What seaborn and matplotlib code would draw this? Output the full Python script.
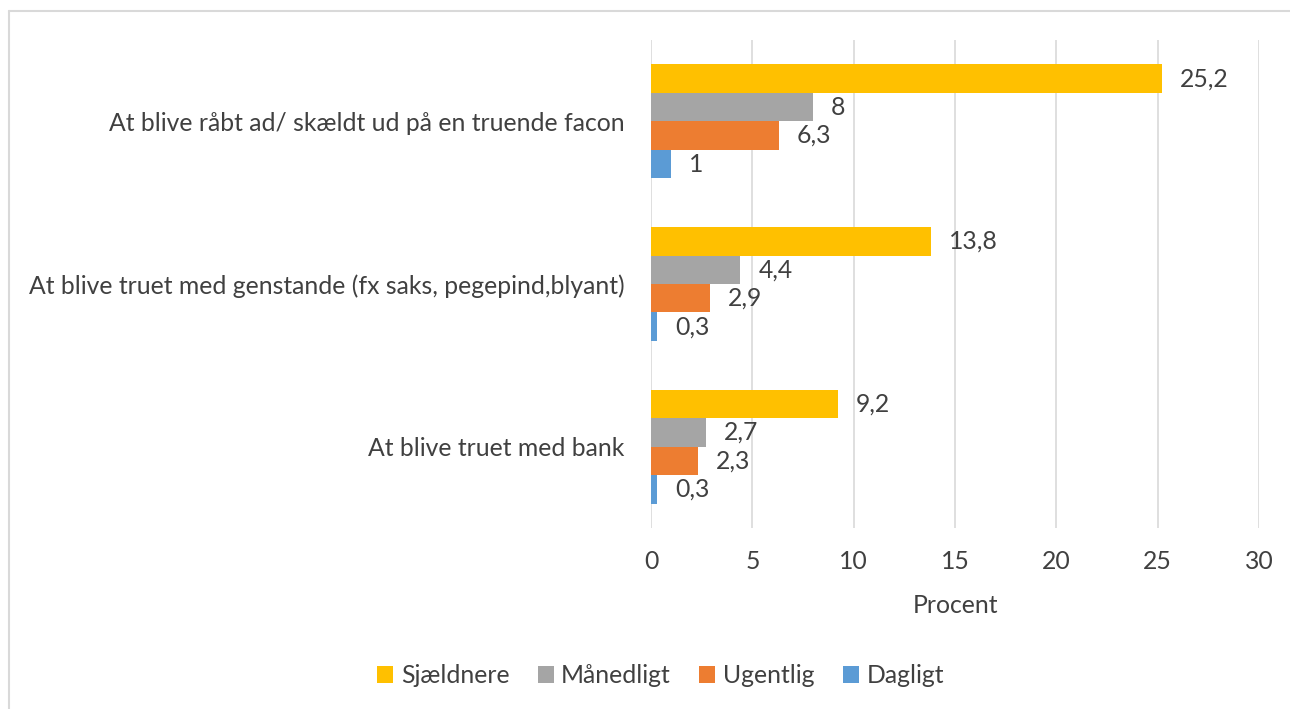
import pandas as pd
import matplotlib.pyplot as plt
import seaborn as sns
from matplotlib.lines import Line2D

categories = [
    'At blive råbt ad/ skældt ud på en truende facon',
    'At blive truet med genstande (fx saks, pegepind,blyant)',
    'At blive truet med bank',
]
series = ['Sjældnere', 'Månedligt', 'Ugentlig', 'Dagligt']
sjaeldnere = [25.2, 13.8, 9.2]
maanedligt = [8.0, 4.4, 2.7]
ugentlig = [6.3, 2.9, 2.3]
dagligt = [1.0, 0.3, 0.3]
colors = ['#FFC000', '#A5A5A5', '#ED7D31', '#5B9BD5']
x_ticks = [0, 5, 10, 15, 20, 25, 30]

rows = []
for name, vals in zip(series, [sjaeldnere, maanedligt, ugentlig, dagligt]):
    for cat, v in zip(categories, vals):
        rows.append({'Kategori': cat, 'Hyppighed': name, 'Procent': v})
df = pd.DataFrame(rows)

sns.set_style('white')
plt.rcParams['font.family'] = ['Lato', 'DejaVu Sans']
text_col = '#404040'
fs = 17.8

fig = plt.figure(figsize=(12.9, 7.09), dpi=100)
ax = fig.add_axes([0.5047, 0.2553, 0.4713, 0.6883])

sns.barplot(data=df, y='Kategori', x='Procent', hue='Hyppighed',
            order=categories, hue_order=series, palette=colors,
            width=0.7, orient='h', ax=ax, saturation=1, legend=True,
            linewidth=0)

for cont in ax.containers:
    labels = [f'{v:g}'.replace('.', ',') for v in cont.datavalues]
    ax.bar_label(cont, labels=labels, padding=13, fontsize=fs, color=text_col)

ax.set_xlim(0, 30)
ax.set_ylim(2.5, -0.5)
ax.set_xticks(x_ticks)
ax.xaxis.grid(True, color='#D9D9D9', linewidth=1.2)
ax.set_axisbelow(True)
for s in ax.spines.values():
    s.set_visible(False)
ax.tick_params(axis='x', length=0, pad=16, labelsize=fs, labelcolor=text_col)
ax.tick_params(axis='y', length=0, pad=19, labelsize=fs, labelcolor=text_col)
ax.set_ylabel('')
ax.set_xlabel('Procent', fontsize=fs, color=text_col, labelpad=15)

handles, labels = ax.get_legend_handles_labels()
ax.get_legend().remove()
fig.legend(handles, labels, loc='center', bbox_to_anchor=(0.512, 0.047),
           ncol=4, frameon=False, fontsize=fs, labelcolor=text_col,
           handlelength=0.65, handleheight=0.65, handletextpad=0.3,
           columnspacing=1.15)

# chart frame (cropped on right and bottom)
fig.add_artist(Line2D([9 / 1290, 9 / 1290], [0, 1 - 11 / 709],
                      transform=fig.transFigure, color='#D9D9D9', lw=1.5))
fig.add_artist(Line2D([9 / 1290, 1], [1 - 11 / 709, 1 - 11 / 709],
                      transform=fig.transFigure, color='#D9D9D9', lw=1.5))

fig.savefig('out.png', dpi=100)
